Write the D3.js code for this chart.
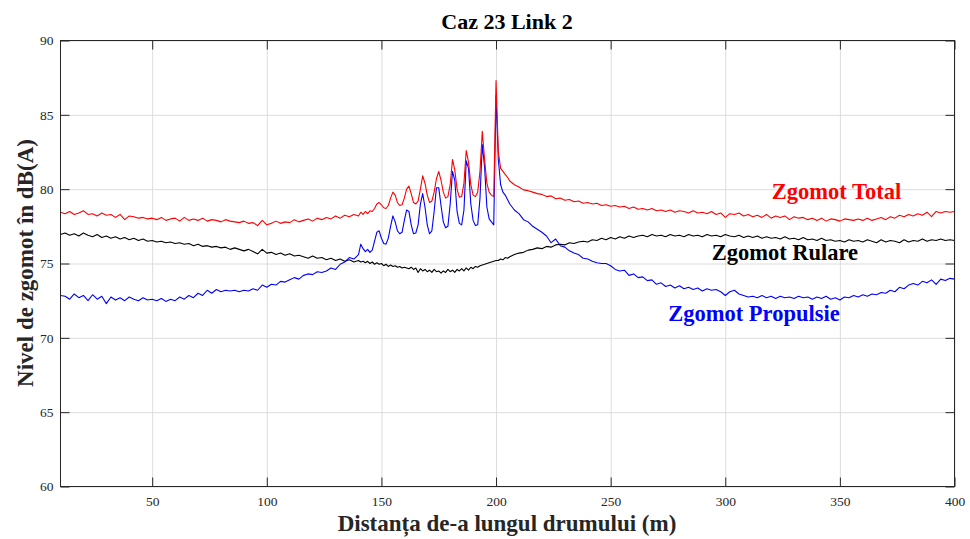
<!DOCTYPE html>
<html>
<head>
<meta charset="utf-8">
<script src="https://cdn.jsdelivr.net/npm/d3@7"></script>
<style>
  body { margin: 0; background: #fff; }
  svg { display: block; font-family: "Liberation Serif", "Times New Roman", serif; }
  .grid line { stroke: #dcdcdc; stroke-width: 1; }
  .grid path { display: none; }
  .axis path { display: none; }
  .axis line { stroke: #262626; }
  .axis text { fill: #262626; font-size: 13.5px; font-family: "Liberation Serif", "Times New Roman", serif; }
</style>
</head>
<body>
<div id="chart"></div>
<script>
// distance along the road (m): 2 m steps, 1 m steps around the pass-by
const distance = [].concat(d3.range(10, 140, 2), d3.range(140, 206, 1), d3.range(206, 401, 2));

const zgomotTotal = [
  78.45,78.35,78.5,78.3,78.4,78.55,78.3,78.35,78.2,78.4,78.25,78.3,78.1,78.3,77.95,78.2,78.15,78.05,78.1,78.0,
  78.05,77.95,78.1,77.9,78.0,78.05,77.85,78.1,77.9,78.0,77.9,78.05,77.85,77.95,77.9,77.8,77.95,77.85,77.8,77.75,
  77.85,77.7,77.75,77.55,77.9,77.6,77.7,77.85,77.7,77.8,77.75,77.95,77.8,77.9,78.0,77.85,78.05,77.95,78.1,78.0,
  78.2,78.05,78.25,78.15,78.3,
  // 140..205
  78.2,78.45,78.3,78.5,78.35,78.55,78.5,78.7,79.0,79.1,78.95,78.75,78.7,78.9,79.4,79.8,79.6,79.1,78.9,78.95,
  79.4,80.0,80.2,79.7,79.1,79.0,79.2,80.0,80.9,80.4,79.6,79.1,79.2,79.8,80.7,81.2,80.6,79.8,79.4,79.5,
  80.3,82.0,81.3,80.0,79.45,79.5,80.4,82.6,81.8,80.3,79.6,79.5,79.8,81.2,83.9,82.0,80.4,79.8,79.6,79.5,
  87.3,82.5,81.4,81.2,81.0,80.8,
  // 206..400
  80.55,80.3,80.15,79.95,79.9,79.8,79.7,79.65,79.5,79.55,79.35,79.4,79.25,79.3,79.15,79.2,79.05,79.1,79.0,79.05,
  78.9,78.95,78.85,78.9,78.8,78.85,78.7,78.8,78.65,78.7,78.6,78.7,78.55,78.6,78.5,78.6,78.45,78.55,78.5,78.4,
  78.55,78.4,78.45,78.35,78.5,78.3,78.4,78.1,78.35,78.3,78.4,78.2,78.3,78.15,78.25,78.1,78.3,78.05,78.2,78.1,
  78.2,77.95,78.15,78.05,78.1,77.95,78.05,77.9,78.05,77.85,78.0,77.95,77.85,78.0,77.95,77.9,78.0,77.9,78.05,77.9,
  78.0,78.1,77.95,78.15,78.05,78.25,78.15,78.3,78.2,78.35,78.25,78.45,78.15,78.5,78.4,78.5,78.45,78.5
];

const zgomotRulare = [
  76.95,77.05,76.9,77.0,76.85,77.05,76.9,76.8,76.95,76.75,76.85,76.7,76.8,76.65,76.75,76.6,76.7,76.55,76.65,76.5,
  76.55,76.45,76.5,76.4,76.45,76.35,76.4,76.3,76.35,76.2,76.3,76.15,76.2,76.1,76.15,76.05,76.1,75.95,76.05,75.95,
  75.85,75.95,75.8,75.65,75.95,75.7,75.75,75.6,75.7,75.55,75.65,75.5,75.55,75.45,75.35,75.5,75.35,75.4,75.25,75.35,
  75.2,75.3,75.15,75.25,75.1,
  // 140..205
  75.2,75.1,75.15,75.05,75.15,75.0,75.1,74.95,75.05,74.95,75.0,74.85,74.95,74.8,74.9,74.8,74.85,74.75,74.8,74.7,
  74.75,74.7,74.65,74.75,74.6,74.7,74.4,74.65,74.5,74.6,74.45,74.55,74.4,74.6,74.45,74.5,74.35,74.5,74.4,74.6,
  74.45,74.55,74.4,74.6,74.5,74.65,74.5,74.7,74.55,74.75,74.65,74.8,74.75,74.85,74.9,74.95,75.0,75.05,75.1,75.15,
  75.2,75.2,75.3,75.25,75.4,75.35,
  // 206..400
  75.45,75.6,75.7,75.75,75.9,75.95,76.05,76.0,76.15,76.1,76.25,76.3,76.25,76.4,76.35,76.45,76.5,76.45,76.6,76.55,
  76.7,76.6,76.75,76.65,76.8,76.7,76.85,76.75,76.85,76.9,76.8,76.95,76.85,76.9,76.8,76.95,76.85,76.9,76.8,76.95,
  76.85,76.9,76.8,76.95,76.85,76.9,76.8,76.95,76.85,76.8,76.9,76.75,76.85,76.75,76.85,76.7,76.8,76.7,76.75,76.65,
  76.8,76.65,76.7,76.6,76.75,76.6,76.65,76.55,76.7,76.55,76.6,76.5,76.55,76.45,76.6,76.5,76.55,76.45,76.6,76.5,
  76.4,76.6,76.45,76.55,76.5,76.4,76.6,76.45,76.55,76.5,76.65,76.5,76.6,76.55,76.65,76.55,76.6,76.55
];

const zgomotPropulsie = [
  72.85,72.8,72.6,72.95,72.7,72.85,72.5,72.9,72.6,72.8,72.3,72.75,72.55,72.7,72.5,72.75,72.6,72.5,72.7,72.55,
  72.6,72.5,72.65,72.45,72.6,72.5,72.75,72.6,72.85,72.7,73.0,72.85,73.2,73.0,73.25,73.1,73.2,73.15,73.2,73.1,
  73.2,73.15,73.3,73.2,73.55,73.4,73.6,73.55,73.8,73.75,73.9,74.05,73.95,74.2,74.3,74.25,74.45,74.4,74.5,74.7,
  74.6,74.95,75.1,75.4,75.3,
  // 140..205
  75.6,76.3,76.0,75.8,75.95,75.75,75.9,76.5,77.1,77.2,76.7,76.35,76.3,76.7,77.5,78.2,77.8,77.2,77.0,77.1,
  77.9,78.6,78.5,77.6,77.0,77.05,77.6,79.0,79.7,78.8,77.6,77.0,77.2,78.5,80.1,80.1,78.9,77.8,77.4,77.5,
  79.0,81.2,80.6,78.5,77.7,77.6,78.6,81.9,81.4,79.0,77.9,77.55,77.6,79.4,83.0,81.5,78.8,78.0,77.8,77.6,
  86.3,82.0,80.3,79.8,79.6,79.3,
  // 206..400
  79.0,78.6,78.35,77.95,77.8,77.5,77.3,77.1,76.85,76.4,76.65,76.2,76.1,75.85,75.7,75.6,75.35,75.3,75.15,75.05,
  75.0,75.0,74.85,74.6,74.5,74.55,74.2,74.3,74.05,74.1,73.85,73.9,73.6,73.7,73.45,73.55,73.35,73.5,73.3,73.4,
  73.25,73.35,73.15,73.3,73.2,73.25,73.1,72.85,73.1,73.2,72.95,72.85,72.75,72.8,72.7,72.85,72.7,72.8,72.65,72.8,
  72.7,72.75,72.65,72.8,72.7,72.75,72.6,72.75,72.65,72.8,72.6,72.7,72.55,72.75,72.7,72.85,72.75,72.9,72.8,72.95,
  72.9,73.05,73.0,73.2,73.1,73.4,73.3,73.55,73.65,73.55,73.8,73.7,73.9,73.6,73.95,73.85,74.0,73.95
];

const xTicks = [50, 100, 150, 200, 250, 300, 350, 400];
const yTicks = [60, 65, 70, 75, 80, 85, 90];

const seriesNames = ["Zgomot Total", "Zgomot Rulare", "Zgomot Propulsie"];
const seriesColors = ["#ff0000", "#000000", "#0000ff"];

const W = 970, H = 539;
const margin = {top: 40, right: 16, bottom: 53, left: 60};
const width = W - margin.left - margin.right;
const height = H - margin.top - margin.bottom;

const svg = d3.select("#chart").append("svg")
	.attr("width", W)
	.attr("height", H);

const g = svg.append("g")
	.attr("transform", "translate(" + (margin.left + 0.5) + "," + (margin.top + 0.5) + ")");

const x = d3.scaleLinear().domain([10, 400]).range([0, width]);
const y = d3.scaleLinear().domain([60, 90]).range([height, 0]);

// grid
g.append("g").attr("class", "grid")
	.attr("transform", "translate(0," + height + ")")
	.call(d3.axisBottom(x).tickValues(xTicks).tickSize(-height).tickFormat(""));
g.append("g").attr("class", "grid")
	.call(d3.axisLeft(y).tickValues(yTicks).tickSize(-width).tickFormat(""));

// series
const line = d3.line()
	.x(function(d){ return x(d[0]); })
	.y(function(d){ return y(d[1]); });

const seriesValues = [zgomotRulare, zgomotPropulsie, zgomotTotal];
const seriesOrder = [1, 2, 0];
seriesOrder.forEach(function(si, k){
	const vals = seriesValues[k];
	const pts = distance.map(function(d, i){ return [d, vals[i]]; });
	g.append("path")
		.datum(pts)
		.attr("fill", "none")
		.attr("stroke", seriesColors[si])
		.attr("stroke-width", 1.1)
		.attr("stroke-linejoin", "round")
		.attr("d", line);
});

// axes with inside ticks
g.append("g").attr("class", "axis")
	.attr("transform", "translate(0," + height + ")")
	.call(d3.axisBottom(x).tickValues(xTicks).tickSizeInner(-9).tickSizeOuter(0).tickPadding(9.5));
g.append("g").attr("class", "axis")
	.call(d3.axisTop(x).tickValues(xTicks).tickSizeInner(-9).tickSizeOuter(0).tickFormat(""));
g.append("g").attr("class", "axis")
	.call(d3.axisLeft(y).tickValues(yTicks).tickSizeInner(-9).tickSizeOuter(0).tickPadding(7));
g.append("g").attr("class", "axis")
	.attr("transform", "translate(" + width + ",0)")
	.call(d3.axisRight(y).tickValues(yTicks).tickSizeInner(-9).tickSizeOuter(0).tickFormat(""));

g.append("rect")
	.attr("width", width)
	.attr("height", height)
	.attr("fill", "none")
	.attr("stroke", "#262626")
	.attr("stroke-width", 1);

// title and axis labels
svg.append("text")
	.attr("x", margin.left + width / 2)
	.attr("y", 29)
	.attr("text-anchor", "middle")
	.attr("font-weight", "bold")
	.attr("font-size", "22px")
	.attr("fill", "#000")
	.text("Caz 23 Link 2");

svg.append("text")
	.attr("x", margin.left + width / 2)
	.attr("y", 531)
	.attr("text-anchor", "middle")
	.attr("font-weight", "bold")
	.attr("font-size", "23px")
	.attr("fill", "#262626")
	.text("Distanța de-a lungul drumului (m)");

svg.append("text")
	.attr("transform", "translate(33," + (margin.top + height / 2) + ") rotate(-90)")
	.attr("text-anchor", "middle")
	.attr("font-weight", "bold")
	.attr("font-size", "23px")
	.attr("fill", "#262626")
	.text("Nivel de zgomot în dB(A)");

// series labels (centre distance, baseline level)
const labelPos = [[348.5, 79.33], [326, 75.23], [312.5, 71.1]];
seriesNames.forEach(function(name, i){
	svg.append("text")
		.attr("x", margin.left + 0.5 + x(labelPos[i][0]))
		.attr("y", margin.top + 0.5 + y(labelPos[i][1]))
		.attr("text-anchor", "middle")
		.attr("font-weight", "bold")
		.attr("font-size", "22.5px")
		.attr("fill", seriesColors[i])
		.text(name);
});
</script>
</body>
</html>
